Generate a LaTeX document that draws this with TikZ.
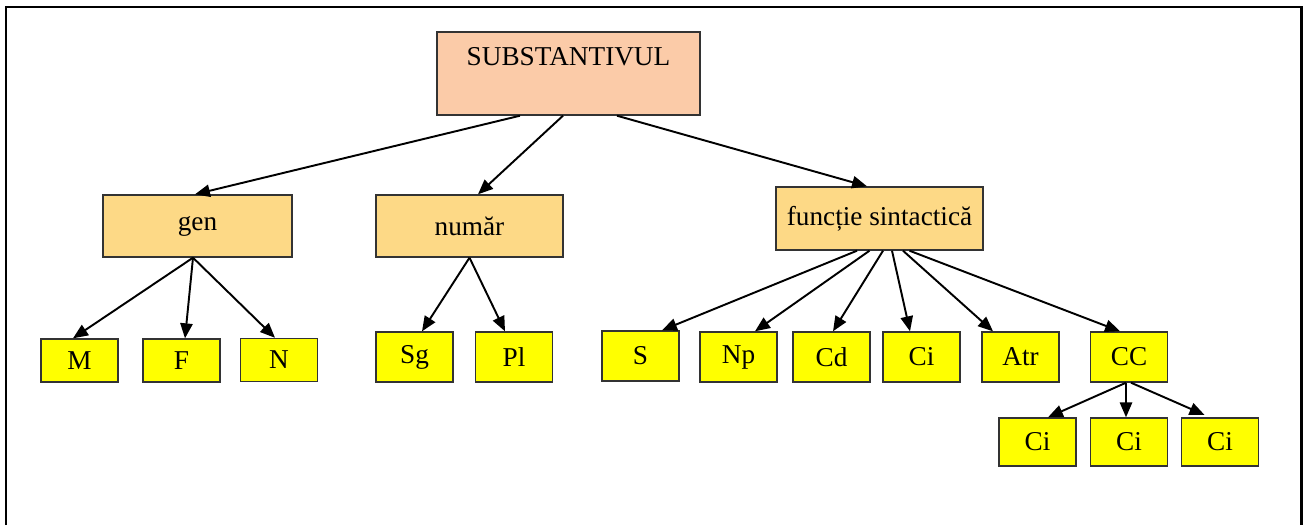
\documentclass[tikz,border=0pt]{standalone}
\usepackage{fontspec}
\setmainfont{Liberation Serif}
\usepackage{tikz}
\usetikzlibrary{arrows.meta}

\definecolor{peach}{HTML}{FBCBA8}
\definecolor{sand}{HTML}{FDD986}
\definecolor{lemon}{HTML}{FFFF00}

\tikzset{
  box/.style={draw=black!80, line width=0.8pt, inner sep=0pt, font=\fontsize{15.5}{18}\selectfont},
  topbox/.style={box, fill=peach, minimum width=5.26cm, text height=0.66cm, text depth=1.0cm},
  midbox/.style={box, fill=sand, minimum width=3.78cm, minimum height=1.24cm},
  leaf/.style={box, fill=lemon, minimum width=1.54cm, minimum height=1cm},
  arr/.style={-{Triangle[length=8.5pt,width=7pt]}, line width=1.1pt}
}

\begin{document}
\begin{tikzpicture}
\useasboundingbox (0,0) rectangle (26.06,-10.5);
% frame, open at the bottom
\draw[line width=1.7pt] (0.12,-10.5) -- (0.12,-0.14) -- (26.02,-0.14) -- (26.02,-10.5);

\node[topbox] (sub) at (11.37,-1.47) {SUBSTANTIVUL};

\node[midbox] (gen) at (3.95,-4.52) {gen};
\node[midbox, minimum width=3.74cm] (num) at (9.39,-4.52) {număr};
\node[midbox, minimum width=4.14cm, minimum height=1.26cm] (fs) at (17.59,-4.37) {funcție sintactică};

% gen, numar
\node[leaf, minimum height=0.86cm] (m) at (1.59,-7.21) {M};
\node[leaf, minimum height=0.86cm] (f) at (3.63,-7.21) {F};
\node[leaf, minimum height=0.86cm] (n) at (5.58,-7.2) {N};
\node[leaf] (sg) at (8.29,-7.14) {Sg};
\node[leaf] (pl) at (10.28,-7.14) {Pl};

% functii
\node[leaf] (s) at (12.81,-7.12) {S};
\node[leaf] (np) at (14.77,-7.14) {Np};
\node[leaf] (cd) at (16.63,-7.14) {Cd};
\node[leaf] (ci) at (18.43,-7.14) {Ci};
\node[leaf] (atr) at (20.41,-7.14) {Atr};
\node[leaf] (cc) at (22.58,-7.14) {CC};
\node[leaf, minimum height=0.96cm] (cia) at (20.75,-8.84) {Ci};
\node[leaf, minimum height=0.96cm] (cib) at (22.58,-8.84) {Ci};
\node[leaf, minimum height=0.96cm] (cic) at (24.4,-8.84) {Ci};

\draw[arr] ([xshift=-0.97cm]sub.south) -- ([xshift=-0.05cm]gen.north);
\draw[arr] ([xshift=-0.11cm]sub.south) -- ([xshift=0.17cm]num.north);
\draw[arr] ([xshift=0.97cm]sub.south) -- ([xshift=-0.25cm]fs.north);

\foreach \to/\e in {m/-0.13, f/0.07, n/-0.08}
  \draw[arr] ([xshift=-0.09cm]gen.south) -- ([xshift=\e cm]\to.north);
\foreach \to/\e in {sg/0.15, pl/-0.18}
  \draw[arr] (num.south) -- ([xshift=\e cm]\to.north);
\foreach \s/\to/\e in {-0.45/s/0.43, -0.2/np/0.33, 0.07/cd/0.03, 0.25/ci/-0.23, 0.47/atr/-0.55, 0.6/cc/-0.18}
  \draw[arr] ([xshift=\s cm]fs.south) -- ([xshift=\e cm]\to.north);
\foreach \to/\e in {cia/0.21, cib/-0.06}
  \draw[arr] ([xshift=-0.06cm]cc.south) -- ([xshift=\e cm]\to.north);
\draw[arr, shorten >=0.12cm] ([xshift=0.04cm]cc.south) -- ([xshift=-0.2cm]cic.north);
\end{tikzpicture}
\end{document}
